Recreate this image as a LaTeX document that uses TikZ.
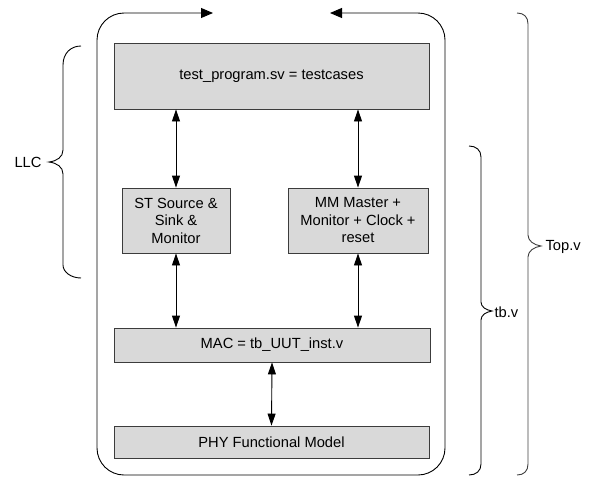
\documentclass[tikz,border=0pt]{standalone}
\usepackage{fontspec}
\setmainfont{Liberation Sans}
\usetikzlibrary{arrows.meta,positioning}
\definecolor{boxfill}{RGB}{217,217,217}
\definecolor{boxline}{RGB}{60,60,60}

\begin{document}
\begin{tikzpicture}[x=1pt,y=-1pt,
    font=\fontsize{14.7}{17.5}\selectfont,
    block/.style={draw=boxline,fill=boxfill,line width=0.9pt,align=center,inner sep=0pt},
    link/.style={line width=0.9pt,{Triangle[length=12pt,width=8pt]}-{Triangle[length=12pt,width=8pt]}},
    curly/.style={line width=0.9pt}]

\useasboundingbox (0,0) rectangle (589,477);

% Outer loop of Top.v
\draw[line width=0.9pt,rounded corners=27pt,{Triangle[length=12pt,width=10pt]}-{Triangle[length=12pt,width=10pt]}]
    (213,13) -- (97,13) -- (97,475) -- (445,475) -- (445,13) -- (330,13);

% Blocks
\node[block,minimum width=315pt,minimum height=66pt] (test) at (271.5,76) {test\_program.sv = testcases};
\node[block,minimum width=108pt,minimum height=65pt] (st) at (176,220.5) {ST Source \&\\Sink \&\\Monitor};
\node[block,minimum width=140pt,minimum height=65pt] (mm) at (358,220.5) {MM Master +\\Monitor + Clock +\\reset};
\node[block,minimum width=316pt,minimum height=34pt] (mac) at (272,345) {MAC = tb\_UUT\_inst.v};
\node[block,minimum width=315pt,minimum height=32pt] (phy) at (271.5,442) {PHY Functional Model};

% Connections
\draw[link] (st.north) -- (st.north |- test.south);
\draw[link] (mm.north) -- (mm.north |- test.south);
\draw[link] (st.south) -- (st.south |- mac.north);
\draw[link] (mm.south) -- (mm.south |- mac.north);
\draw[link] (phy.north) -- (mac.south);

% LLC brace
\draw[curly] (81,46) .. controls (71,46) and (63,53) .. (63,65) -- (63,150)
    .. controls (63,157) and (57,161) .. (49,162) .. controls (57,163) and (63,167) .. (63,174)
    -- (63,265) .. controls (63,272) and (71,278) .. (81,278);
\node[anchor=east] (llc) at (45,162) {LLC};

% tb.v brace
\draw[curly] (469,146) .. controls (476,146) and (481,150) .. (481,157) -- (481,302)
    .. controls (481,307) and (486,310) .. (492,311) .. controls (486,312) and (481,315) .. (481,320)
    -- (481,464) .. controls (481,471) and (476,475) .. (469,475);
\node[anchor=west] (tbv) at (491,312) {tb.v};

% Top.v brace
\draw[curly,black!75] (517,13) .. controls (524,13) and (528,17) .. (528,24) -- (528,235)
    .. controls (528,241) and (534,245) .. (541,246) .. controls (534,247) and (528,251) .. (528,257)
    -- (528,464) .. controls (528,471) and (524,475) .. (517,475);
\node[anchor=west] (topv) at (542,247) {Top.v};

\end{tikzpicture}
\end{document}
